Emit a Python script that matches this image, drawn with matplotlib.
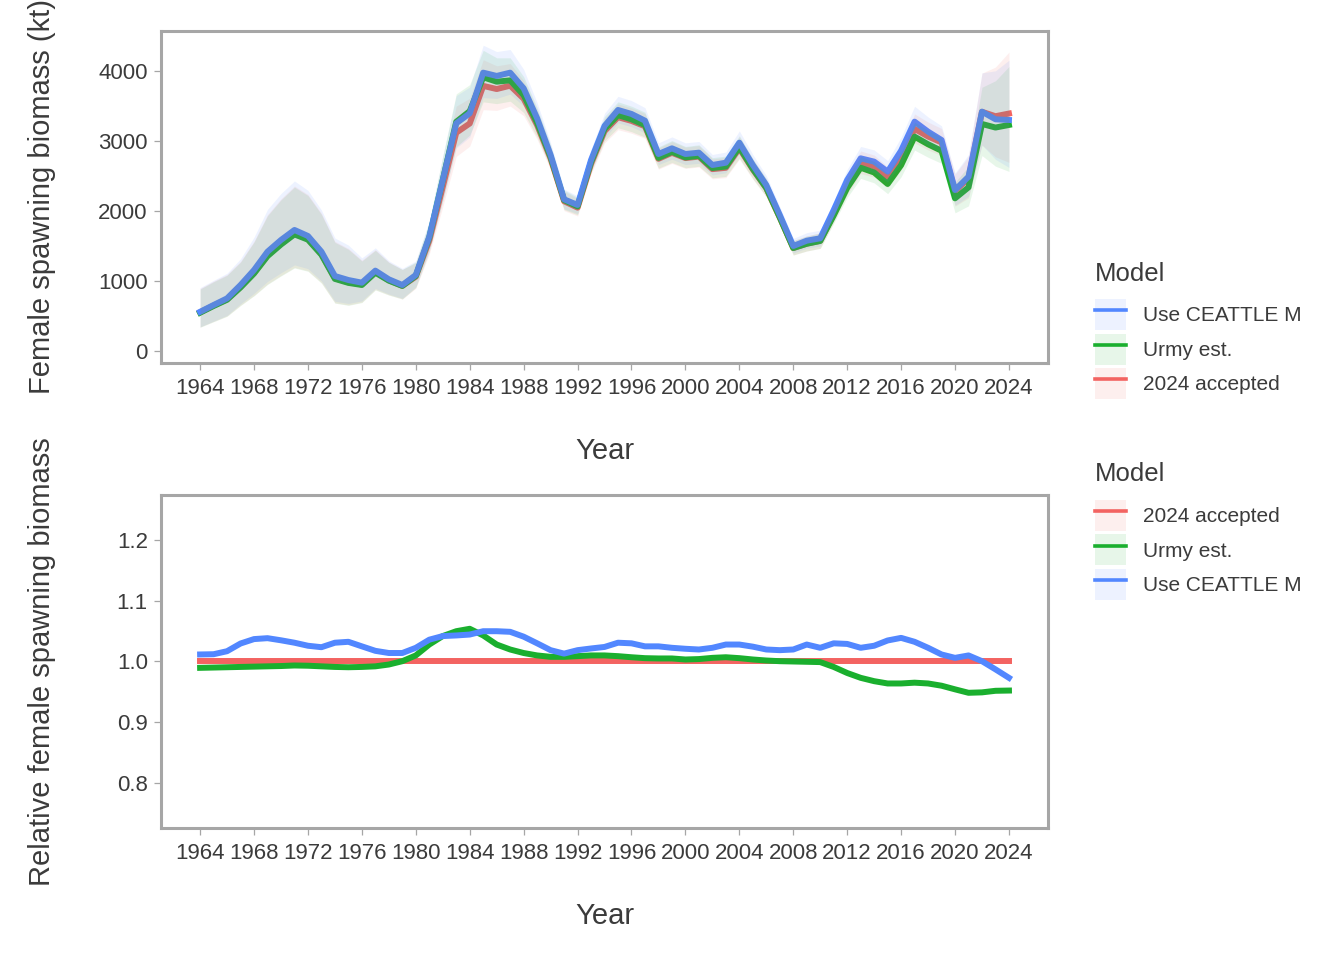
import numpy as np
import matplotlib
matplotlib.use('Agg')
import matplotlib.pyplot as plt
from matplotlib.patches import Patch
from matplotlib.lines import Line2D
from matplotlib.legend_handler import HandlerTuple

plt.rcParams['font.family'] = ['Liberation Sans', 'DejaVu Sans']

# 年份
years = list(range(1964, 2025))

# 雌性产卵生物量 (kt)，三个模型
ssb_accepted = [553, 649, 739, 916, 1116, 1366, 1532, 1677, 1601, 1386,
                1039, 982, 952, 1128, 1010, 930, 1062, 1576, 2345, 3118,
                3250, 3787, 3742, 3790, 3604, 3227, 2749, 2139, 2048, 2672,
                3140, 3340, 3287, 3210, 2745, 2831, 2756, 2777, 2598, 2617,
                2895, 2593, 2325, 1907, 1471, 1533, 1574, 1955, 2374, 2691,
                2636, 2476, 2755, 3173, 3064, 2979, 2286, 2465, 3417, 3354,
                3392]
ssb_urmy = [547, 643, 732, 908, 1107, 1355, 1521, 1666, 1590, 1375,
            1030, 973, 943, 1119, 1005, 930, 1073, 1620, 2443, 3274,
            3426, 3910, 3847, 3866, 3654, 3259, 2770, 2155, 2066, 2699,
            3171, 3369, 3310, 3228, 2759, 2845, 2765, 2788, 2614, 2635,
            2911, 2602, 2329, 1908, 1471, 1532, 1572, 1937, 2329, 2618,
            2550, 2386, 2655, 3062, 2953, 2860, 2181, 2338, 3243, 3192,
            3229]
ssb_ceattle = [560, 657, 752, 943, 1157, 1419, 1586, 1729, 1643, 1419,
               1071, 1014, 976, 1148, 1024, 943, 1086, 1633, 2443, 3252,
               3395, 3976, 3929, 3976, 3752, 3324, 2800, 2167, 2086, 2729,
               3215, 3443, 3386, 3290, 2814, 2895, 2814, 2833, 2657, 2690,
               2976, 2657, 2371, 1943, 1500, 1576, 1610, 2014, 2443, 2752,
               2705, 2562, 2862, 3276, 3133, 3014, 2300, 2490, 3419, 3310,
               3300]

# 置信区间半宽 (对数尺度)
ci_halfwidth = [0.48, 0.43, 0.39, 0.335, 0.34, 0.355, 0.35, 0.34, 0.334, 0.35,
                0.41, 0.40, 0.31, 0.25, 0.23, 0.225, 0.17, 0.13, 0.13, 0.115,
                0.105, 0.094, 0.085, 0.08, 0.07, 0.065, 0.06, 0.065, 0.06, 0.055,
                0.055, 0.055, 0.055, 0.055, 0.055, 0.055, 0.055, 0.055, 0.055, 0.055,
                0.055, 0.055, 0.055, 0.06, 0.07, 0.07, 0.07, 0.06, 0.06, 0.06,
                0.06, 0.06, 0.065, 0.065, 0.065, 0.065, 0.10, 0.12, 0.15, 0.19,
                0.23]

# 相对生物量 (相对于 2024 accepted)
rel_accepted = [1.0] * 61
rel_urmy = [0.9895, 0.990, 0.9905, 0.991, 0.9915, 0.992, 0.9925, 0.9934, 0.993, 0.992,
            0.991, 0.9905, 0.991, 0.992, 0.995, 1.0005, 1.01, 1.028, 1.042, 1.05,
            1.054, 1.043, 1.028, 1.0198, 1.014, 1.01, 1.0077, 1.0077, 1.0088, 1.01,
            1.01, 1.0088, 1.007, 1.0055, 1.005, 1.005, 1.0033, 1.004, 1.006, 1.007,
            1.0055, 1.0033, 1.0016, 1.0005, 1.0, 0.9995, 0.999, 0.991, 0.981, 0.973,
            0.9675, 0.9637, 0.9637, 0.965, 0.9637, 0.960, 0.954, 0.9483, 0.949, 0.9516,
            0.952]
rel_ceattle = [1.0116, 1.012, 1.017, 1.0297, 1.037, 1.0385, 1.035, 1.031, 1.026, 1.0236,
               1.031, 1.0325, 1.025, 1.0176, 1.014, 1.014, 1.0226, 1.036, 1.042, 1.043,
               1.0445, 1.050, 1.050, 1.049, 1.041, 1.030, 1.0187, 1.013, 1.0187, 1.0215,
               1.024, 1.031, 1.030, 1.025, 1.025, 1.0226, 1.021, 1.0198, 1.0226, 1.028,
               1.028, 1.0245, 1.0198, 1.0187, 1.0198, 1.028, 1.0226, 1.030, 1.029, 1.0226,
               1.026, 1.0347, 1.039, 1.0325, 1.0226, 1.0116, 1.006, 1.01, 1.0005, 0.987,
               0.973]

# 模型名称和颜色
model_names = ['2024 accepted', 'Urmy est.', 'Use CEATTLE M']
model_colors = ['#F36361', '#1AAF2E', '#5287FF']

text_col = '#3B3B3B'
border_col = '#A6A6A6'

fig = plt.figure(figsize=(13.44, 9.6), dpi=100)
ax1 = fig.add_axes([0.1198, 0.6219, 0.66, 0.3458])
ax2 = fig.add_axes([0.1198, 0.1375, 0.66, 0.3469])

yr = np.array(years)
hw = np.array(ci_halfwidth)

# 上图：生物量 + 置信区间 (区间画在线的上面)
for ssb, col in zip([ssb_accepted, ssb_urmy, ssb_ceattle], model_colors):
    ax1.plot(yr, ssb, color=col, lw=4.3, zorder=2)
for ssb, col in zip([ssb_accepted, ssb_urmy, ssb_ceattle], model_colors):
    s = np.array(ssb, dtype=float)
    ax1.fill_between(yr, s * np.exp(-hw), s * np.exp(hw), color=col, alpha=0.1,
                     lw=0, zorder=3)

# 下图：相对生物量
for rel, col in zip([rel_accepted, rel_urmy, rel_ceattle], model_colors):
    ax2.plot(yr, rel, color=col, lw=4.3, zorder=2)

ax1.set_xlim(1961.1, 2026.9)
ax1.set_ylim(-171, 4571)
ax1.set_yticks([0, 1000, 2000, 3000, 4000])
ax2.set_xlim(1961.1, 2026.9)
ax2.set_ylim(0.725, 1.275)
ax2.set_yticks([0.8, 0.9, 1.0, 1.1, 1.2])
ax2.set_yticklabels(['0.8', '0.9', '1.0', '1.1', '1.2'])

for ax, ylab in [(ax1, 'Female spawning biomass (kt)'),
                 (ax2, 'Relative female spawning biomass')]:
    ax.set_xticks(list(range(1964, 2025, 4)))
    for sp in ax.spines.values():
        sp.set_color(border_col)
        sp.set_linewidth(2.2)
    ax.tick_params(axis='both', colors=border_col, labelcolor=text_col,
                   labelsize=16, length=5, width=0.9)
    ax.tick_params(axis='x', pad=5.5)
    ax.tick_params(axis='y', pad=4.5)
    ax.set_xlabel('Year', fontsize=21, color=text_col)
    ax.set_ylabel(ylab, fontsize=21, color=text_col)
    ax.xaxis.set_label_coords(0.5, -0.222)
    ax.yaxis.set_label_coords(-0.118, 0.5)


def make_handles(order):
    hs = []
    for i in order:
        hs.append((Patch(facecolor=model_colors[i], alpha=0.1, lw=0),
                   Line2D([], [], color=model_colors[i], lw=2.6)))
    return hs


# 图例
for order, y_title, y_box in [([2, 1, 0], 0.7073, 0.6885),
                              ([0, 1, 2], 0.499, 0.4792)]:
    fig.text(0.8147, y_title, 'Model', fontsize=18.5, color=text_col,
             ha='left', va='baseline')
    fig.legend(make_handles(order), [model_names[i] for i in order],
               handler_map={tuple: HandlerTuple(ndivide=1, pad=0)},
               loc='upper left', bbox_to_anchor=(0.8147, y_box),
               frameon=False, fontsize=15, borderpad=0, borderaxespad=0,
               handlelength=1.49, handleheight=1.91, handletextpad=0.8,
               labelspacing=0.17, labelcolor=text_col)

fig.savefig('out.png', dpi=100)
